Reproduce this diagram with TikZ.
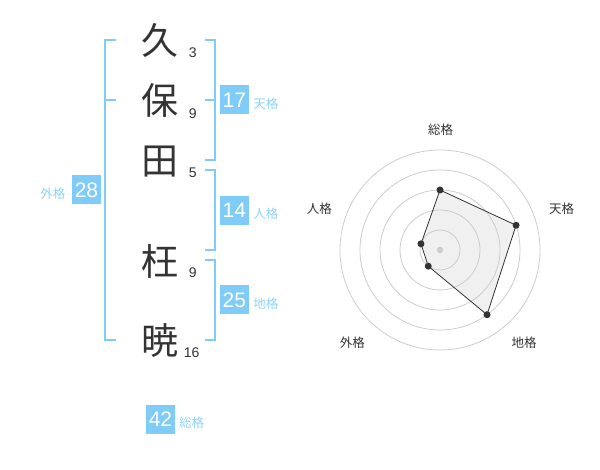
\documentclass[tikz,border=0pt]{standalone}
\usepackage{fontspec}
\setmainfont{Liberation Sans}
\newfontfamily\jp{Noto Sans CJK JP}
\definecolor{kakublue}{HTML}{80CCF8}
\definecolor{kakutext}{HTML}{8ED3F6}
\definecolor{ink}{HTML}{333333}
\definecolor{ring}{HTML}{CCCCCC}

\begin{document}
\begin{tikzpicture}
  [x=1pt,y=-1pt,every node/.style={inner sep=0pt,text=ink},
   kanji/.style={font=\jp\fontsize{37}{37}\selectfont},
   strokes/.style={font=\fontsize{14}{14}\selectfont},
   kakubox/.style={fill=kakublue,minimum size=29pt,text=white,font=\fontsize{21}{21}\selectfont},
   kakuname/.style={text=kakutext,font=\jp\fontsize{12.5}{12.5}\selectfont},
   axisname/.style={font=\jp\fontsize{12.5}{12.5}\selectfont},
   bracket/.style={draw=kakublue,line width=2pt}]
  \useasboundingbox (0,0) rectangle (600,470);
  % name
  \foreach \n/\c/\y in {1/久/40,2/保/100,3/田/161.5,4/枉/261.5,5/暁/340.5}
    \node[kanji] (k\n) at (160,\y) {\c};
  \foreach \n/\s/\x/\y in {1/3/192.7/52.7,2/9/192.7/113.3,3/5/192.7/172.7,4/9/192.7/272.7,5/16/191.7/352.7}
    \node[strokes] (s\n) at (\x,\y) {\s};
  % brackets
  \draw[bracket] (116,40) -- (105,40) -- (105,340) -- (116,340);
  \draw[bracket] (105,100) -- (116,100);
  \draw[bracket] (205,40) -- (214.5,40) -- (214.5,160) -- (205,160);
  \draw[bracket] (205,100) -- (214.5,100);
  \draw[bracket] (205,170) -- (214.5,170) -- (214.5,250) -- (205,250);
  \draw[bracket] (205,260) -- (214.5,260) -- (214.5,340) -- (205,340);
  % kaku values
  \node[kakubox] (ten) at (234.3,100) {17};
  \node[kakuname] (tenl) at (265.8,103.3) {天格};
  \node[kakubox] (jin) at (234.3,210.5) {14};
  \node[kakuname] (jinl) at (265.8,214) {人格};
  \node[kakubox] (chi) at (234.3,300) {25};
  \node[kakuname] (chil) at (265.8,304) {地格};
  \node[kakubox] (gai) at (86.5,190) {28};
  \node[kakuname] (gail) at (52.8,194) {外格};
  \node[kakubox] (sou) at (160.5,419) {42};
  \node[kakuname] (soul) at (191.7,422.7) {総格};
  % radar
  \begin{scope}[shift={(440,250)},yscale=-1]
    \coordinate (rs) at (90:60);
    \coordinate (rt) at (18:80);
    \coordinate (rc) at (-54:80);
    \coordinate (rg) at (-126:20);
    \coordinate (rj) at (162:20);
    \fill[black!6] (rs) -- (rt) -- (rc) -- (rg) -- (rj) -- cycle;
    \foreach \r in {20,40,60,80,100}
      \draw[ring,line width=0.8pt] (0,0) circle (\r);
    \fill[ring] (0,0) circle (3.2);
    \draw[ink,line width=0.8pt] (rs) -- (rt) -- (rc) -- (rg) -- (rj) -- cycle;
    \foreach \p in {rs,rt,rc,rg,rj}
      \fill[ink] (\p) circle (3.5);
  \end{scope}
  \node[axisname] (axs) at (440.7,130) {総格};
  \node[axisname] (axt) at (561.7,208.3) {天格};
  \node[axisname] (axc) at (524,342.3) {地格};
  \node[axisname] (axg) at (352.3,342.3) {外格};
  \node[axisname] (axj) at (319.3,208.3) {人格};
\end{tikzpicture}
\end{document}
